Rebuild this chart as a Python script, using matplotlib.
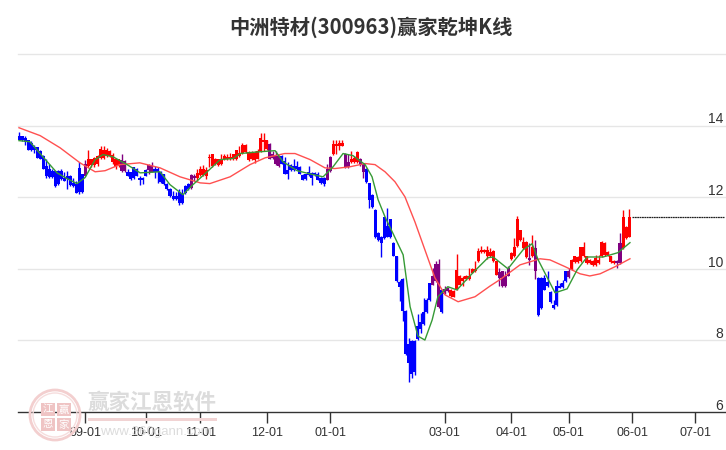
# -*- coding: utf-8 -*-
import matplotlib
matplotlib.use('Agg')
import matplotlib.pyplot as plt
from matplotlib.patches import Circle, Rectangle

W, H = 726, 450

# K线: 实体上沿, 实体下沿, 最高, 最低
tops = [13.72,13.72,13.66,13.59,13.52,13.41,13.40,13.29,13.15,12.87,
        12.78,12.72,12.73,12.73,12.73,12.55,12.60,12.60,12.39,12.37,
        12.81,12.64,12.92,13.06,13.06,13.10,13.15,13.35,13.33,13.31,
        13.29,13.17,13.06,13.06,13.03,13.01,12.69,12.69,12.83,12.80,
        12.55,12.55,12.76,12.89,12.89,12.80,12.80,12.71,12.64,12.37,
        12.23,12.03,12.03,12.15,12.09,12.30,12.37,12.62,12.60,12.67,
        12.78,12.80,12.75,13.12,13.20,13.08,13.06,13.08,13.15,13.12,
        13.13,13.20,13.32,13.24,13.47,13.47,13.26,13.24,13.24,13.29,
        13.66,13.59,13.59,13.49,13.20,13.15,13.15,13.15,13.01,12.75,
        12.89,12.87,12.87,12.85,12.62,12.64,12.69,12.67,12.67,12.64,
        12.55,12.55,12.78,13.12,13.49,13.49,13.52,13.52,13.21,12.98,
        13.06,13.10,13.27,13.08,12.92,12.80,12.39,12.06,11.65,11.00,
        10.90,11.44,11.20,11.38,10.72,10.35,9.64,9.72,8.82,7.90,
        7.99,7.99,8.41,8.52,8.80,9.13,9.59,9.79,10.14,10.14,
        9.42,9.44,9.47,9.42,9.38,9.98,9.79,9.75,9.81,9.81,
        10.00,10.00,10.49,10.53,10.53,10.53,10.48,10.51,10.21,9.90,
        9.93,9.81,10.02,10.44,10.62,11.38,11.07,10.76,10.76,10.30,
        10.62,10.58,9.74,9.74,9.74,9.62,9.35,8.98,9.53,9.53,
        9.60,9.93,9.93,10.25,10.35,10.33,10.60,10.60,10.35,10.25,
        10.23,10.30,10.25,10.76,10.73,10.48,10.35,10.23,10.23,10.73,
        11.46,11.18,11.46]
bots = [13.59,13.59,13.55,13.32,13.33,13.32,13.10,13.06,12.80,12.60,
        12.57,12.57,12.30,12.37,12.52,12.46,12.50,12.34,12.30,12.11,
        12.14,12.14,12.60,12.87,12.89,12.89,12.92,13.10,13.10,13.15,
        13.15,12.97,12.83,12.87,12.73,12.73,12.60,12.52,12.55,12.60,
        12.49,12.49,12.60,12.76,12.71,12.71,12.71,12.43,12.37,12.23,
        12.03,11.95,11.95,11.84,11.83,12.12,12.23,12.25,12.55,12.55,
        12.62,12.62,12.60,13.09,12.87,12.92,12.89,12.92,13.06,13.06,
        13.06,13.06,13.06,13.15,13.24,13.26,13.04,13.06,13.04,13.08,
        13.29,13.54,13.35,13.08,13.10,12.92,12.87,12.94,12.66,12.64,
        12.76,12.76,12.78,12.66,12.49,12.50,12.62,12.55,12.62,12.49,
        12.39,12.37,12.49,12.73,13.20,13.44,13.44,13.44,12.83,12.83,
        12.97,12.97,12.97,12.89,12.71,12.43,11.93,11.72,10.89,10.81,
        10.72,10.86,10.90,10.89,10.37,9.65,9.50,8.82,7.62,7.36,
        7.06,7.11,8.03,8.33,8.45,8.79,9.13,9.56,9.65,8.93,
        8.78,9.31,9.38,9.24,9.22,9.44,9.56,9.65,9.72,9.72,
        9.89,9.93,10.21,10.46,10.46,10.35,10.35,10.21,9.84,9.74,
        9.51,9.51,9.81,10.27,10.35,10.64,10.81,10.58,10.33,10.25,
        10.36,9.93,8.71,8.91,9.42,9.53,9.07,8.91,8.98,9.47,
        9.49,9.65,9.77,9.98,10.18,10.18,10.21,10.36,10.16,10.16,
        10.11,10.11,10.16,10.36,10.39,10.39,10.18,10.16,10.16,10.16,
        10.58,10.85,10.90]
highs = [13.82,13.72,13.70,13.61,13.56,13.47,13.40,13.33,13.17,13.06,
         12.92,12.78,12.73,12.76,12.78,12.69,12.73,12.62,12.55,12.46,
         12.97,12.66,13.04,13.33,13.08,13.12,13.17,13.43,13.44,13.38,
         13.33,13.24,13.08,13.08,13.22,13.03,12.78,12.71,12.85,12.82,
         12.60,12.57,12.80,12.92,12.98,12.87,12.85,12.73,12.66,12.39,
         12.27,12.18,12.14,12.23,12.23,12.34,12.39,12.64,12.64,12.78,
         12.87,12.89,12.83,13.20,13.21,13.10,13.08,13.20,13.21,13.21,
         13.24,13.22,13.33,13.44,13.52,13.49,13.29,13.29,13.29,13.35,
         13.78,13.78,13.61,13.52,13.29,13.29,13.17,13.17,13.13,12.97,
         12.92,13.06,13.01,12.87,12.64,12.66,12.87,12.69,12.69,12.69,
         12.57,12.57,12.92,13.15,13.61,13.61,13.61,13.61,13.23,13.20,
         13.29,13.15,13.29,13.10,12.94,12.82,12.41,12.08,11.67,11.02,
         10.92,11.46,11.69,11.40,10.74,10.37,9.70,9.75,8.84,8.08,
         8.01,8.01,8.73,8.77,9.19,9.19,9.61,10.02,10.21,10.28,
         9.44,9.51,9.49,9.44,9.40,10.40,9.84,9.79,9.83,10.02,
         10.02,10.21,10.58,10.65,10.55,10.65,10.58,10.53,10.23,10.02,
         9.95,9.93,10.07,10.48,10.85,11.48,11.09,10.90,10.78,10.72,
         10.95,10.81,9.76,9.76,9.84,9.93,9.37,9.14,9.70,9.61,
         9.70,9.95,10.02,10.27,10.37,10.35,10.62,10.76,10.37,10.27,
         10.25,10.39,10.39,10.78,10.75,10.50,10.37,10.25,10.25,10.99,
         11.64,11.20,11.66]
lows = [13.59,13.56,13.45,13.32,13.29,13.24,13.09,13.06,12.80,12.55,
        12.55,12.53,12.29,12.35,12.49,12.44,12.23,12.32,12.28,12.11,
        12.10,12.12,12.58,12.85,12.85,12.85,12.88,13.08,13.08,13.13,
        13.13,12.92,12.80,12.85,12.71,12.69,12.58,12.48,12.50,12.58,
        12.34,12.37,12.58,12.64,12.69,12.55,12.41,12.41,12.35,12.21,
        12.01,11.93,11.93,11.77,11.81,12.10,12.21,12.23,12.46,12.46,
        12.60,12.60,12.52,12.83,12.83,12.90,12.87,12.90,13.04,13.04,
        13.04,13.04,13.04,13.13,13.22,13.24,13.02,13.04,12.95,13.06,
        13.27,13.29,13.33,13.06,13.08,12.90,12.85,12.92,12.64,12.52,
        12.74,12.74,12.76,12.64,12.47,12.48,12.60,12.35,12.60,12.47,
        12.37,12.30,12.47,12.71,13.18,13.20,13.32,13.42,12.81,12.81,
        12.95,12.95,12.95,12.87,12.55,12.41,11.69,11.70,10.87,10.79,
        10.33,10.84,10.88,10.87,10.35,9.63,9.10,8.54,7.60,6.85,
        6.94,7.02,8.01,8.22,8.43,8.77,9.11,9.54,9.63,8.91,
        8.76,9.29,9.36,9.22,9.20,9.42,9.54,9.53,9.70,9.70,
        9.87,9.91,10.19,10.44,10.44,10.28,10.33,10.19,9.82,9.51,
        9.49,9.49,9.79,10.25,10.33,10.62,10.79,10.56,10.31,10.11,
        10.34,9.72,8.69,8.89,9.40,9.49,9.05,8.89,8.96,9.45,
        9.47,9.63,9.75,9.96,10.16,10.16,10.19,10.34,10.14,10.14,
        10.09,10.09,10.14,10.34,10.37,10.37,10.16,10.14,10.02,10.14,
        10.56,10.83,10.88]
# R 红, B 蓝, P 紫
kinds = ('B'*22 + 'P' + 'R'*11 + 'PP' + 'B'*7 + 'PP' + 'B'*12 + 'PP' + 'R'*24
         + 'P'*4 + 'B'*15 + 'PP' + 'R'*4 + 'PP' + 'R'*3 + 'PP' + 'B'*22
         + 'P'*3 + 'B' + 'PP' + 'R'*16 + 'P'*4 + 'R'*6 + 'P' + 'R' + 'P'
         + 'B'*10 + 'P' + 'R'*15 + 'PP' + 'R'*3)

# 均线读数
red_x = [0,7,13.6,20.2,25.2,28.5,33.4,40,46.7,53.3,60,63.2,69.9,76.5,81.5,88,91.4,
         96.4,101.3,104.6,109.6,114.6,117.9,121.2,124.5,127.8,131.1,134.4,137.7,
         141.1,145.4,151,156,159.3,165.9,172.5,175.8,180.8,185.8,189,192.4,197.4,202.3]
red_y = [13.94,13.72,13.38,12.96,12.71,12.74,12.91,12.96,12.82,12.57,12.40,12.38,
         12.57,12.91,13.10,13.22,13.22,13.05,12.82,12.80,12.85,12.94,12.91,12.71,
         12.43,12.01,11.31,10.53,9.75,9.27,9.08,9.22,9.52,9.70,10.11,10.28,10.25,
         10.06,9.86,9.80,9.86,10.06,10.28]
green_x = [0,3.6,7.9,12.6,15.9,19.2,21.9,25.2,27.8,31.1,35.8,40.1,46.7,50,54.3,57.6,
           62.3,66.6,70.9,73.2,79.8,84.8,87.4,92.1,97.4,100.7,104,107.3,110.6,114.6,
           116.9,118.9,121.2,124.5,127.2,129.5,132.1,134.4,136.8,138.7,142,145,150.3,
           155.3,157,161.9,166.9,169.9,171.9,177.5,181.5,184.8,188.1,193.4,198.3,202.3]
green_y = [13.58,13.55,13.13,12.68,12.52,12.38,12.55,13.05,13.19,13.13,12.91,12.68,
           12.71,12.35,12.07,12.35,12.71,13.05,13.08,13.22,13.27,13.30,12.99,12.74,
           12.63,12.57,12.85,13.22,13.16,12.91,12.57,11.93,11.45,10.87,10.39,8.94,
           8.12,8.01,8.57,9.22,9.50,9.41,9.89,10.31,10.33,10.0,10.53,10.70,10.25,
           9.33,9.44,9.97,10.33,10.33,10.45,10.73]

level = 11.45
date_pos = [22,42,60,82,103,141,163,182,203,224]
date_labels = ['09-01','10-01','11-01','12-01','01-01','03-01','04-01','05-01','06-01','07-01']
price_ticks = [6,8,10,12,14]

plt.rcParams['font.family'] = ['Liberation Sans', 'Noto Sans CJK SC', 'DejaVu Sans']
colors = {'R': '#ff0000', 'B': '#0000ff', 'P': '#800080'}

fig = plt.figure(figsize=(W / 100, H / 100), dpi=100)
ax = fig.add_axes([18 / W, (H - 412) / H, (W - 18) / W, 358 / H])
ax.set_xlim(-0.33, 234.1)
ax.set_ylim(6, 16)

for v in [8, 10, 12, 14, 16]:
    ax.axhline(v, color='#e6e6e6', lw=1, zorder=1, clip_on=False)

x = list(range(len(tops)))
c = [colors[k] for k in kinds]
ax.vlines(x, lows, highs, colors=c, lw=1, zorder=3)
ax.bar(x, [t - b for t, b in zip(tops, bots)], bottom=bots, width=1.0, color=c, lw=0, zorder=3)

ax.plot(red_x, red_y, color='#ff5050', lw=1, zorder=4)
ax.plot(green_x, green_y, color='#359a35', lw=1, zorder=4)
ax.plot([203, 233.5], [level, level], color='#222222', lw=0.9, ls=(0, (1.5, 0.4)), zorder=4)

for s in ['top', 'left', 'right']:
    ax.spines[s].set_visible(False)
ax.spines['bottom'].set_color('#333333')
ax.spines['bottom'].set_linewidth(1)
ax.set_yticks([])
ax.set_xticks(date_pos)
ax.set_xticklabels(date_labels, fontsize=9, color='#333333')
ax.tick_params(axis='x', length=8, width=1, color='#333333', pad=3)

for v in price_ticks:
    ax.annotate(str(v), (1, v), xycoords=('axes fraction', 'data'), xytext=(-2, 4.5),
                textcoords='offset points', ha='right', va='center', fontsize=10, color='#333333')

fig.text(371 / W, 1 - 27 / H, '中洲特材(300963)赢家乾坤K线', ha='center', va='center',
         fontsize=14.6, fontweight='bold', color='#333333',
         family=['Noto Sans CJK SC', 'DejaVu Sans'])

# 水印
wm = fig.add_axes([0, 0, 1, 1], facecolor='none')
wm.set_xlim(0, W)
wm.set_ylim(H, 0)
wm.axis('off')
wm.add_patch(Circle((55, 415), 25, fill=False, ec='#f3cfcf', lw=2))
wm.add_patch(Circle((55, 415), 22, fill=False, ec='#f6dddd', lw=1))
for (bx, by, ch) in [(41, 403, '江'), (57, 403, '赢'), (41, 418, '恩'), (57, 418, '家')]:
    wm.add_patch(Rectangle((bx, by), 14, 13, color='#efc4c4', lw=0))
    wm.text(bx + 7, by + 6.5, ch, ha='center', va='center', fontsize=7.5, color='white',
            family='Noto Sans CJK SC')
wm.text(152, 402, '赢家江恩软件', ha='center', va='center', fontsize=15.5, color='#dcdcdc',
        family='Noto Sans CJK SC', fontweight='bold')
wm.add_patch(Rectangle((88, 418), 129, 3, color='#f1d3d3', lw=0))
wm.text(156, 432, 'www.360gann.com', ha='center', va='center', fontsize=9.5, color='#dcdcdc')

fig.savefig('out.png', dpi=100)
